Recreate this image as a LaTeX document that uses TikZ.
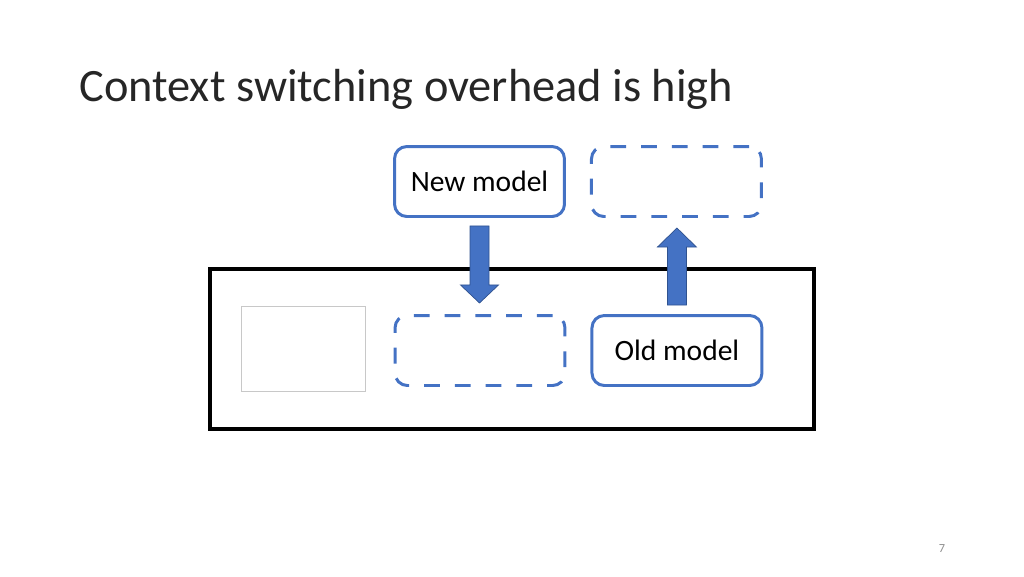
\documentclass[tikz,border=0pt]{standalone}
\usepackage{fontspec}
\setmainfont{Carlito}
\usepackage{tikz}
\usetikzlibrary{positioning, calc}
\definecolor{slideblue}{RGB}{68, 114, 196}
\definecolor{arrowedge}{RGB}{47, 82, 143}
\definecolor{framegray}{RGB}{200, 200, 200}
\definecolor{pagegray}{RGB}{140, 140, 140}

\begin{document}
\begin{tikzpicture}[
    x=0.02cm, y=-0.02cm,
    modelbox/.style={draw=slideblue, line width=1.7pt, rounded corners=7pt,
                     minimum width=3.40cm, minimum height=1.40cm,
                     font=\fontsize{16.8}{19}\selectfont},
    slotbox/.style={modelbox, dash pattern=on 9pt off 8.5pt},
    machine/.style={draw=black, line width=2pt, minimum width=12.08cm,
                    minimum height=3.2cm},
    placeholder/.style={draw=framegray, line width=0.4pt,
                        minimum width=2.48cm, minimum height=1.7cm},
    blockarr/.style={fill=slideblue, draw=arrowedge, line width=0.4pt},
]
\useasboundingbox (0,0) rectangle (1024,576);

% --- Title ---
\node[anchor=base west, font=\fontsize{26.4}{31}\selectfont, text=black!85,
      inner sep=0pt] (title) at (79,101) {Context switching overhead is high};

% --- Top row ---
\node[modelbox] (new) at (479.5,181.5) {New model};
\node[slotbox, right=0.48cm of new] (slotout) {};

% --- Machine ---
\node[machine] (gpu) at (512,349) {};
\node[placeholder] (other) at (303,348.5) {};
\node[slotbox] (slotin) at (480,350.5) {};
\node[modelbox, right=0.48cm of slotin] (old) {Old model};

% --- Block arrows ---
\draw[blockarr] ($(new.south)+(-9.5,8)$) -- ++(19,0) -- ++(0,59) -- ++(9.5,0)
    -- ++(-19,18) -- ++(-19,-18) -- ++(9.5,0) -- cycle;
\draw[blockarr] ($(old.north)+(-9.5,-9)$) -- ++(19,0) -- ++(0,-58) -- ++(10,0)
    -- ++(-19.5,-19) -- ++(-19.5,19) -- ++(10,0) -- cycle;

% --- Page number ---
\node[font=\fontsize{7}{8}\selectfont, text=pagegray] (page) at (942,549) {7};

\end{tikzpicture}
\end{document}
